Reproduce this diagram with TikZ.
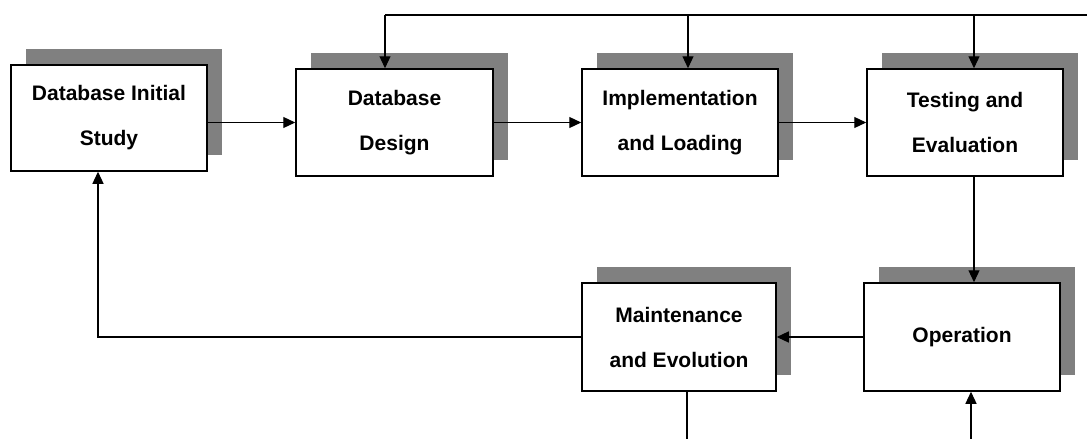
\documentclass[tikz,border=0pt]{standalone}
\usepackage{fontspec}
\setmainfont{Liberation Sans}
\usetikzlibrary{arrows.meta,shadows}
\definecolor{shgray}{RGB}{128,128,128}
\begin{document}
\begin{tikzpicture}[x=1pt,y=-1pt,
  box/.style={draw=black, line width=1.5pt, fill=white, inner sep=0pt,
    align=center, font=\bfseries\fontsize{21}{45}\selectfont,
    drop shadow={shadow xshift=15pt, shadow yshift=16pt, fill=shgray, opacity=1}},
  conn/.style={line width=1.2pt, draw=black},
  arr/.style={conn, -{Triangle[length=12pt,width=11pt]}}]
\useasboundingbox (0,0) rectangle (1087,439);
\node[box, minimum width=196pt, minimum height=106pt] (b1) at (109,118) {Database Initial\\Study};
\node[box, minimum width=197pt, minimum height=107pt] (b2) at (394.5,122.5) {Database\\Design};
\node[box, minimum width=196pt, minimum height=107pt] (b3) at (680,122.5) {Implementation\\and Loading};
\node[box, minimum width=196pt, minimum height=107pt] (b4) at (965,122.5) {Testing and\\Evaluation};
\node[box, minimum width=194pt, minimum height=108pt] (b5) at (679,337) {Maintenance\\and Evolution};
\node[box, minimum width=196pt, minimum height=108pt] (b6) at (962,337) {Operation};
\coordinate (tR) at (1087,15);
\coordinate (t2) at (385,15);
\coordinate (t3) at (688,15);
\coordinate (t4) at (974,15);
\coordinate (c1) at (98,337);
\coordinate (m) at (687,439);
\coordinate (o) at (971,439);
\draw[arr] (b1.east |- b2.west) -- (b2.west);
\draw[arr] (b2.east) -- (b3.west);
\draw[arr] (b3.east) -- (b4.west);
\draw[conn] (tR) -- (t2);
\draw[arr] (t2) -- (t2 |- b2.north);
\draw[arr] (t3) -- (t3 |- b3.north);
\draw[arr] (t4) -- (t4 |- b4.north);
\draw[arr] (t4 |- b4.south) -- (t4 |- b6.north);
\draw[arr] (b6.west) -- (b5.east);
\draw[arr] (b5.west) -- (c1) -- (c1 |- b1.south);
\draw[conn] (m |- b5.south) -- (m);
\draw[arr] (o) -- (o |- b6.south);
\end{tikzpicture}
\end{document}
